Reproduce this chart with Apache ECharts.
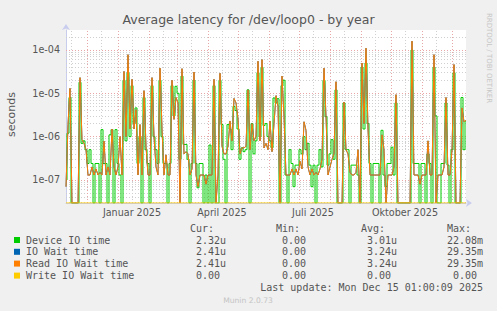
<!DOCTYPE html>
<html><head><meta charset="utf-8">
<script src="https://cdn.jsdelivr.net/npm/echarts@6/dist/echarts.min.js"></script>
<style>html,body{margin:0;padding:0;background:#f0f0f0}#c{width:497px;height:311px}</style>
</head><body><div id="c"></div>
<script>
// ---------------- data ----------------
const TITLE = 'Average latency for /dev/loop0 - by year';
const Y_NAME = 'seconds';
const END_TIME = Date.UTC(2025, 11, 15, 1, 0, 9);
const SPAN_DAYS = 400;
const STEP_DAYS = 2;
const Y_MIN = 2.94e-8;
const Y_MAX = 2.89e-4;
const X_TICK_LABELS = ['Januar 2025', 'April 2025', 'Juli 2025', 'Oktober 2025'];
const X_TICK_DATES = [[2025, 0, 15], [2025, 3, 15], [2025, 6, 15], [2025, 9, 15]];
const MONTH_STARTS = [[2024,11,1],[2025,0,1],[2025,1,1],[2025,2,1],[2025,3,1],[2025,4,1],[2025,5,1],[2025,6,1],[2025,7,1],[2025,8,1],[2025,9,1],[2025,10,1],[2025,11,1]];
const MID_MONTHS = [[2024,10,15],[2024,11,15],[2025,0,15],[2025,1,15],[2025,2,15],[2025,3,15],[2025,4,15],[2025,5,15],[2025,6,15],[2025,7,15],[2025,8,15],[2025,9,15],[2025,10,15]];
const Y_DECADES = [1e-7, 1e-6, 1e-5, 1e-4];
const Y_MINOR = [3e-8,4e-8,5e-8,6e-8,7e-8,8e-8,9e-8,2e-7,3e-7,4e-7,5e-7,6e-7,7e-7,8e-7,9e-7,2e-6,3e-6,4e-6,5e-6,6e-6,7e-6,8e-6,9e-6,2e-5,3e-5,4e-5,5e-5,6e-5,7e-5,8e-5,9e-5,2e-4];

// Read IO wait time (seconds), one value every 2 days
const READ_IO = [
  7e-8, 1.9e-6, 1.3e-5, 0, 0, 0, 0, 2.3e-5, 8.5e-7, 7e-7,
  5e-7, 1.3e-7, 1.3e-7, 2e-7, 1.3e-7, 1.8e-7, 1.3e-7, 1.5e-7, 1.3e-7, 7.9e-7,
  1.3e-7, 2e-7, 1.3e-7, 1.5e-6, 2e-7, 1.3e-7, 2e-7, 1e-6, 1.3e-7, 3.2e-5,
  1e-6, 7.8e-5, 1.5e-6, 2.1e-5, 1.5e-6, 4.2e-6, 1.3e-7, 1.9e-6, 1.3e-7, 1.15e-5,
  6e-7, 1.3e-7, 1.3e-7, 2.3e-5, 1e-6, 2e-7, 1.3e-7, 3.8e-5, 1.5e-6, 1.3e-7,
  3.8e-7, 1.3e-7, 1.3e-7, 2e-5, 2.5e-6, 8e-6, 6e-6, 0, 3.7e-5, 4e-7,
  4.5e-7, 4e-7, 1.3e-7, 1.8e-7, 3.1e-5, 1.3e-7, 7e-8, 1.3e-7, 1.3e-7, 1.3e-7,
  8e-8, 1.3e-7, 1.3e-7, 1.3e-7, 2.1e-5, 0, 1.3e-7, 2.9e-5, 6e-7, 4e-7,
  4e-7, 6e-7, 2.3e-6, 8e-7, 7.6e-6, 6e-6, 2.6e-6, 4e-7, 5.5e-7, 5.5e-7,
  6e-7, 1.2e-5, 5e-7, 2e-6, 8e-7, 1e-6, 5.5e-5, 8e-7, 6e-5, 5.5e-7,
  7e-7, 5e-7, 2.3e-6, 4.5e-7, 2e-6, 8.8e-6, 5e-6, 0, 2.5e-5, 3e-6,
  1.3e-7, 1.3e-7, 1.3e-7, 1.8e-7, 1.3e-7, 1.8e-7, 1.3e-7, 2.7e-7, 1.8e-7, 2.2e-6,
  1.4e-6, 2e-7, 1.3e-7, 1.8e-7, 1.3e-7, 1.5e-7, 1.3e-7, 1.8e-7, 3e-7, 3.8e-5,
  2.9e-6, 1.3e-7, 2e-7, 3e-7, 4e-7, 1.85e-5, 0, 0, 0, 6.3e-6,
  5e-7, 4e-7, 1.5e-7, 1.3e-7, 1.3e-7, 1.5e-7, 5e-7, 0, 5e-5, 2e-6,
  1.1e-4, 1.5e-6, 1.3e-7, 1.3e-7, 1.3e-7, 1.3e-7, 1.3e-7, 1.3e-7, 1.1e-6, 5e-7,
  0, 1.3e-7, 1.3e-7, 1.3e-7, 2e-7, 9.3e-6, 0, 0, 0, 0,
  0, 0, 0, 1.6e-4, 1.3e-7, 1.3e-7, 1.3e-7, 8e-8, 1.3e-7, 1.3e-7,
  1.3e-7, 8e-7, 1.3e-7, 1.3e-7, 7.8e-5, 0, 1.3e-7, 1.3e-7, 1.3e-7, 2e-7,
  8e-6, 1.3e-7, 1.3e-7, 5e-7, 4.6e-5, 0, 0, 0, 4.6e-6, 2.2e-6,
  2.4e-6
];
// IO wait time equals read IO wait time (same legend figures); drawn beneath it
const IO_WAIT = READ_IO.slice();
// Device IO time (seconds)
const DEVICE_IO = [
  1e-7, 1.2e-6, 8e-6, 0, 0, 0, 0, 1.8e-5, 7e-7, 8e-7,
  5e-7, 2.4e-7, 5e-7, 2.4e-7, 0, 2.4e-7, 2.4e-7, 0, 1.45e-6, 2.4e-7,
  2.4e-7, 0, 1.1e-6, 1.45e-6, 0, 1.45e-6, 2.4e-7, 1.3e-7, 0, 2e-5,
  8e-7, 3e-5, 1e-6, 1.5e-5, 2e-6, 4.6e-6, 2.4e-7, 1e-6, 0, 8e-6,
  5e-7, 2.4e-7, 0, 1.5e-5, 1e-6, 5e-7, 2.4e-7, 2e-5, 1e-6, 2.4e-7,
  2.4e-7, 0, 2.4e-7, 1.5e-5, 3e-6, 1.45e-5, 1e-5, 3e-7, 2.5e-5, 6.6e-7,
  6.6e-7, 3e-7, 0, 2.4e-7, 2e-5, 2.4e-7, 6.6e-8, 2.4e-7, 2.4e-7, 0,
  1.3e-7, 0, 6.4e-7, 0, 1.5e-5, 0, 0, 2e-5, 1.9e-6, 3e-7,
  0, 1.9e-6, 1.5e-6, 5e-7, 5e-6, 4e-6, 1.5e-6, 3e-7, 5.5e-7, 4.5e-7,
  5e-7, 1.2e-5, 0, 2e-6, 4e-7, 8e-7, 3e-5, 1e-6, 4e-5, 1.8e-6,
  2e-6, 1e-6, 8e-7, 5.5e-7, 7.8e-6, 6e-6, 7.5e-6, 0, 1.5e-5, 2e-5,
  1.3e-7, 0, 5e-7, 2.4e-7, 7e-8, 2.2e-7, 2.2e-7, 5e-7, 4e-7, 1e-6,
  5e-7, 7e-7, 2.2e-7, 7e-8, 2.2e-7, 0, 2.2e-7, 5e-7, 2e-7, 2e-5,
  2.9e-6, 2.2e-7, 4e-7, 8.5e-7, 3e-7, 1.2e-5, 0, 0, 0, 6e-6,
  5e-7, 5e-7, 0, 2.2e-7, 2.2e-7, 2.2e-7, 1.3e-7, 0, 4e-5, 1.5e-6,
  5e-5, 2e-6, 2.4e-7, 0, 2.4e-7, 2.4e-7, 2.4e-7, 0, 1.4e-6, 1.3e-7,
  7e-8, 2.4e-7, 2.4e-7, 5.7e-7, 1.3e-7, 6e-6, 0, 0, 0, 0,
  0, 0, 0, 1e-4, 2.4e-7, 2.4e-7, 2.4e-7, 0, 2.4e-7, 2.4e-7,
  0, 4e-7, 2.4e-7, 0, 4e-5, 3e-6, 0, 0, 2.4e-7, 2.4e-7,
  6e-6, 2.2e-7, 0, 5e-7, 3e-5, 0, 0, 0, 8e-6, 5e-7,
  2.3e-6
];
// Write IO wait time: all zero
const WRITE_IO = new Array(READ_IO.length).fill(0);

const LEGEND_NAMES = ['Device IO time', 'IO Wait time', 'Read IO Wait time', 'Write IO Wait time'];
const LEGEND_COLORS = ['#00CC00', '#0066B3', '#FF8000', '#FFCC00'];
const STAT_HEADERS = ['Cur:', 'Min:', 'Avg:', 'Max:'];
const STAT_CUR = ['2.32u', '2.41u', '2.41u', '0.00'];
const STAT_MIN = ['0.00', '0.00', '0.00', '0.00'];
const STAT_AVG = ['3.01u', '3.24u', '3.24u', '0.00'];
const STAT_MAX = ['22.08m', '29.35m', '29.35m', '0.00'];
const LAST_UPDATE = 'Last update: Mon Dec 15 01:00:09 2025';
const FOOTER = 'Munin 2.0.73';
const WATERMARK = 'RRDTOOL / TOBI OETIKER';

// ---------------- build ----------------
// x axis in days since the start of the 400-day window
const DAY = 86400000;
const START_TIME = END_TIME - SPAN_DAYS * DAY;
const dayOf = d => (Date.UTC(d[0], d[1], d[2]) - START_TIME) / DAY;
const TICK_POS = X_TICK_DATES.map(dayOf);
const toSeries = arr => arr.map((v, i) => [i * STEP_DAYS, v === 0 ? Y_MIN : v]);

const SANS = 'DejaVu Sans';
const MONO = 'DejaVu Sans Mono';
const TXT = '#555555';
const MINOR_STYLE = { color: '#d0d0d0', type: [1, 2], width: 1 };
const MAJOR_STYLE = { color: '#e9a6a6', type: [1, 2], width: 1 };

const gridLines = [];
const hLine = (v, st) => gridLines.push([{ coord: [0, v], lineStyle: st }, { coord: [SPAN_DAYS, v] }]);
const vLine = (d, st) => gridLines.push([{ coord: [d, Y_MIN], lineStyle: st }, { coord: [d, Y_MAX] }]);
Y_MINOR.forEach(v => hLine(v, MINOR_STYLE));
MID_MONTHS.forEach(d => vLine(dayOf(d), MINOR_STYLE));
Y_DECADES.forEach(v => hLine(v, MAJOR_STYLE));
MONTH_STARTS.forEach(d => vLine(dayOf(d), MAJOR_STYLE));

const lineSeries = (name, data, color, step) => ({
  name, type: 'line', data: toSeries(data), showSymbol: false, symbol: 'none',
  step: step || false, z: 2,
  lineStyle: { color, width: 1 }, itemStyle: { color }, clip: true, silent: true
});

const graphic = [];
graphic.push({ type: 'text', x: 248.5, y: 19.5, style: { text: TITLE, fill: TXT, font: '12.5px "' + SANS + '"', align: 'center', verticalAlign: 'middle' } });
graphic.push({ type: 'text', x: 11.5, y: 114.5, rotation: Math.PI / 2, style: { text: Y_NAME, fill: TXT, font: '11px "' + SANS + '"', align: 'center', verticalAlign: 'middle' } });
graphic.push({ type: 'text', x: 489, y: 58, rotation: -Math.PI / 2, style: { text: WATERMARK, fill: '#c6c6c6', font: '7px "' + SANS + '"', align: 'center', verticalAlign: 'middle' } });
const HEAD_X = [190, 276, 361, 447];
STAT_HEADERS.forEach((h, k) => graphic.push({ type: 'text', x: HEAD_X[k], y: 228, style: { text: h, fill: TXT, font: '10px "' + MONO + '"', align: 'left', verticalAlign: 'middle' } }));
const ROW_Y = [240, 251.8, 263.6, 275.6];
const COL_X = [184, 270, 355, 441];
const CW = 6.02;
const cols = [STAT_CUR, STAT_MIN, STAT_AVG, STAT_MAX];
LEGEND_NAMES.forEach((n, r) => {
  graphic.push({ type: 'rect', shape: { x: 14, y: ROW_Y[r] - 3, width: 6, height: 6 }, style: { fill: LEGEND_COLORS[r] } });
  graphic.push({ type: 'text', x: 26, y: ROW_Y[r], style: { text: n, fill: TXT, font: '10px "' + MONO + '"', align: 'left', verticalAlign: 'middle' } });
  cols.forEach((c, k) => {
    const s = c[r];
    const numLen = s.replace(/[a-zA-Z]/g, '').length;
    graphic.push({ type: 'text', x: COL_X[k] + (6 - numLen) * CW, y: ROW_Y[r], style: { text: s, fill: TXT, font: '10px "' + MONO + '"', align: 'left', verticalAlign: 'middle' } });
  });
});
graphic.push({ type: 'text', x: 483, y: 287.7, style: { text: LAST_UPDATE, fill: TXT, font: '10px "' + MONO + '"', align: 'right', verticalAlign: 'middle' } });
graphic.push({ type: 'text', x: 248, y: 300, style: { text: FOOTER, fill: '#c4c4c4', font: '7.6px "' + SANS + '"', align: 'center', verticalAlign: 'middle' } });

const option = {
  animation: false,
  backgroundColor: '#f0f0f0',
  grid: { left: 66, top: 30, width: 400, height: 173, show: true, backgroundColor: '#ffffff', borderWidth: 0 },
  xAxis: {
    type: 'value', min: 0, max: SPAN_DAYS,
    splitLine: { show: false }, axisTick: { show: false },
    axisLine: { show: true, lineStyle: { color: '#c8cdee', width: 1 }, symbol: ['none', 'arrow'], symbolSize: [6, 6], symbolOffset: [0, 6] },
    axisLabel: {
      customValues: TICK_POS,
      formatter: v => { let best = -1, bd = 1e9; TICK_POS.forEach((p, k) => { const d = Math.abs(p - v); if (d < bd) { bd = d; best = k; } }); return bd < 0.5 ? X_TICK_LABELS[best] : ''; },
      color: TXT, fontFamily: SANS, fontSize: 9.6, margin: 4, hideOverlap: false
    }
  },
  yAxis: {
    type: 'log', logBase: 10, min: Y_MIN, max: Y_MAX,
    splitLine: { show: false }, axisTick: { show: false }, minorTick: { show: false },
    axisLine: { show: true, lineStyle: { color: '#c8cdee', width: 1 }, symbol: ['none', 'arrow'], symbolSize: [6, 6], symbolOffset: [0, 6] },
    axisLabel: {
      formatter: v => { const e = Math.log10(v); const r = Math.round(e); if (Math.abs(e - r) > 0.01) return ''; return '1e' + (r < 0 ? '-' : '+') + String(Math.abs(r)).padStart(2, '0'); },
      color: TXT, fontFamily: SANS, fontSize: 9.6, margin: 6, showMinLabel: true, showMaxLabel: true
    }
  },
  series: [
    { name: 'grid', type: 'line', data: [[0, Y_MIN]], showSymbol: false, symbol: 'none', lineStyle: { opacity: 0 }, z: 1, silent: true,
      markLine: { silent: true, symbol: ['none', 'none'], label: { show: false }, animation: false, z: 1, data: gridLines } },
    lineSeries(LEGEND_NAMES[0], DEVICE_IO, LEGEND_COLORS[0], 'middle'),
    lineSeries(LEGEND_NAMES[1], IO_WAIT, LEGEND_COLORS[1]),
    lineSeries(LEGEND_NAMES[2], READ_IO, LEGEND_COLORS[2]),
    lineSeries(LEGEND_NAMES[3], WRITE_IO, LEGEND_COLORS[3])
  ],
  graphic
};
const chart = echarts.init(document.getElementById('c'), null, { renderer: 'svg', width: 497, height: 311 });
chart.setOption(option);
</script>
</body></html>
